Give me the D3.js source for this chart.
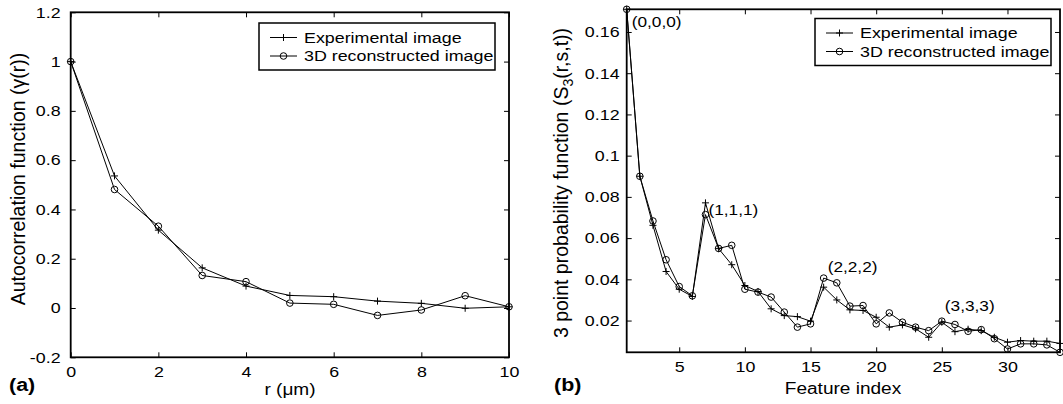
<!DOCTYPE html>
<html>
<head>
<meta charset="utf-8">
<script src="https://cdn.jsdelivr.net/npm/d3@7"></script>
<style>
  body { margin: 0; background: #fff; }
  svg { display: block; }
  text { font-family: "Liberation Sans", Arial, Helvetica, sans-serif; fill: #000; }
</style>
</head>
<body>
<svg width="1063" height="404"></svg>
<script>
"use strict";

// ---- data (a): autocorrelation ----
var rValues = [0, 1, 2, 3, 4, 5, 6, 7, 8, 9, 10];
var expAuto = [1, 0.536, 0.316, 0.163, 0.089, 0.051, 0.046, 0.028, 0.019, -0.001, 0.005];
var recAuto = [1, 0.481, 0.332, 0.132, 0.107, 0.020, 0.015, -0.030, -0.008, 0.050, 0.005];
var aXTicks = [0, 2, 4, 6, 8, 10];
var aYTicks = [-0.2, 0, 0.2, 0.4, 0.6, 0.8, 1, 1.2];

// ---- data (b): 3 point probability function ----
var featureIndex = d3.range(1, 35);
var expS3 = [0.171, 0.090, 0.0662, 0.0438, 0.0352, 0.0317, 0.0771, 0.0549, 0.0471, 0.0370,
             0.0341, 0.0257, 0.0224, 0.0219, 0.0197, 0.0362, 0.0300, 0.0252, 0.0249, 0.0216,
             0.0168, 0.0179, 0.0160, 0.0119, 0.0192, 0.0146, 0.0158, 0.0151, 0.0119, 0.0095,
             0.0103, 0.0100, 0.0100, 0.0089];
var recS3 = [0.171, 0.090, 0.0683, 0.0495, 0.0365, 0.0320, 0.0714, 0.0550, 0.0565, 0.0352,
             0.0338, 0.0314, 0.0241, 0.0168, 0.0184, 0.0406, 0.0383, 0.0270, 0.0273, 0.0184,
             0.0237, 0.0192, 0.0168, 0.0151, 0.0197, 0.0181, 0.0148, 0.0156, 0.0112, 0.0062,
             0.0087, 0.0087, 0.0082, 0.0046];
var bXTicks = [5, 10, 15, 20, 25, 30];
var bYTicks = [0.02, 0.04, 0.06, 0.08, 0.1, 0.12, 0.14, 0.16];
var annotations = [
  {label: "(0,0,0)", i: 1,  v: 0.171,  dx: 5, dy: 18},
  {label: "(1,1,1)", i: 7,  v: 0.0771, dx: 3, dy: 12},
  {label: "(2,2,2)", i: 16, v: 0.0406, dx: 4, dy: -6},
  {label: "(3,3,3)", i: 25, v: 0.0197, dx: 3, dy: -10}
];
var seriesNames = ["Experimental image", "3D reconstructed image"];

var svg = d3.select("svg"),
    SX = 1.19;   // horizontal text stretch seen in the reference

function hText(parent, x, y, str, size) {
  return parent.append("text")
    .attr("transform", "translate(" + x + "," + y + ") scale(" + SX + ",1)")
    .style("font-size", size + "px")
    .text(str);
}

function drawMarker(g, kind, x, y) {
  if (kind === "plus") {
    g.append("path")
      .attr("d", "M" + (x - 3.5) + "," + y + "H" + (x + 3.5) + "M" + x + "," + (y - 3.5) + "V" + (y + 3.5))
      .attr("stroke", "#000").attr("stroke-width", 1).attr("fill", "none");
  } else {
    g.append("circle").attr("cx", x).attr("cy", y).attr("r", 3.3)
      .attr("stroke", "#000").attr("stroke-width", 1).attr("fill", "none");
  }
}

function panel(opt) {
  var x = d3.scaleLinear().domain(opt.xDomain).range([opt.left, opt.right]),
      y = d3.scaleLinear().domain(opt.yDomain).range([opt.bottom, opt.top]);
  var g = svg.append("g");

  var styleAxis = function(a) {
    a.select(".domain").remove();
    a.attr("font-family", null).attr("font-size", null);
    a.selectAll("line").attr("stroke", "#000").attr("stroke-width", 1);
  };

  g.append("g").attr("transform", "translate(0," + opt.bottom + ")")
    .call(d3.axisBottom(x).tickValues(opt.xTicks).tickSizeInner(-5).tickSizeOuter(0)
      .tickPadding(opt.xPad).tickFormat(d => String(d)))
    .call(styleAxis)
    .selectAll("text").attr("transform", "scale(" + SX + ",1)").style("font-size", "15px");
  g.append("g").attr("transform", "translate(0," + opt.top + ")")
    .call(d3.axisTop(x).tickValues(opt.xTicks).tickSizeInner(-5).tickSizeOuter(0).tickFormat(""))
    .call(styleAxis);
  g.append("g").attr("transform", "translate(" + opt.left + ",0)")
    .call(d3.axisLeft(y).tickValues(opt.yTicks).tickSizeInner(-5).tickSizeOuter(0)
      .tickPadding(opt.yPad).tickFormat(d => String(d)))
    .call(styleAxis)
    .selectAll("text").attr("transform", "scale(" + SX + ",1)").style("font-size", "15px");
  g.append("g").attr("transform", "translate(" + opt.right + ",0)")
    .call(d3.axisRight(y).tickValues(opt.yTicks).tickSizeInner(-5).tickSizeOuter(0).tickFormat(""))
    .call(styleAxis);

  g.append("rect")
    .attr("x", opt.left).attr("y", opt.top)
    .attr("width", opt.right - opt.left).attr("height", opt.bottom - opt.top)
    .attr("fill", "none").attr("stroke", "#000").attr("stroke-width", 1.8);

  var line = d3.line().x(d => x(d[0])).y(d => y(d[1]));
  opt.series.forEach(function(s) {
    var pts = opt.xs.map((v, k) => [v, s.values[k]]);
    g.append("path").datum(pts).attr("d", line)
      .attr("fill", "none").attr("stroke", "#000").attr("stroke-width", 1);
    pts.forEach(p => drawMarker(g, s.marker, x(p[0]), y(p[1])));
  });

  // legend
  var lg = g.append("g");
  lg.append("rect").attr("x", opt.legend.x).attr("y", opt.legend.y)
    .attr("width", 236).attr("height", 47)
    .attr("fill", "#fff").attr("stroke", "#000").attr("stroke-width", 1.5);
  opt.series.forEach(function(s, k) {
    var ly = opt.legend.y + 14.5 + k * 18.5,
        lx = opt.legend.x + 11;
    lg.append("line").attr("x1", lx).attr("x2", lx + 27).attr("y1", ly).attr("y2", ly)
      .attr("stroke", "#000").attr("stroke-width", 1);
    drawMarker(lg, s.marker, lx + 13.5, ly);
    hText(lg, lx + 34, ly + 5.4, s.name, 15);
  });

  return {g: g, x: x, y: y};
}

// ---- panel (a) ----
var pa = panel({
  left: 70.7, right: 509, top: 12.3, bottom: 357.3,
  xDomain: [0, 10], yDomain: [-0.2, 1.2],
  xTicks: aXTicks, yTicks: aYTicks, xPad: 9, yPad: 8.5,
  xs: rValues,
  series: [
    {name: seriesNames[0], values: expAuto, marker: "plus"},
    {name: seriesNames[1], values: recAuto, marker: "circle"}
  ],
  legend: {x: 259, y: 23}
});
hText(pa.g, 290, 395, "r (\u03bcm)", 16).attr("text-anchor", "middle");
pa.g.append("text")
  .attr("transform", "translate(25,179) rotate(-90)")
  .attr("text-anchor", "middle").style("font-size", "19.5px")
  .text("Autocorrelation function (\u03b3(r))");
hText(pa.g, 9, 391, "(a)", 18).style("font-weight", "bold");

// ---- panel (b) ----
var allS3 = expS3.concat(recS3);
var pb = panel({
  left: 626.7, right: 1060, top: 9.3, bottom: 352.3,
  xDomain: d3.extent(featureIndex), yDomain: d3.extent(allS3),
  xTicks: bXTicks, yTicks: bYTicks, xPad: 9, yPad: 6,
  xs: featureIndex,
  series: [
    {name: seriesNames[0], values: expS3, marker: "plus"},
    {name: seriesNames[1], values: recS3, marker: "circle"}
  ],
  legend: {x: 815, y: 18.5}
});
annotations.forEach(function(a) {
  hText(pb.g, pb.x(a.i) + a.dx, pb.y(a.v) + a.dy, a.label, 14.5);
});
hText(pb.g, 843, 394, "Feature index", 16).attr("text-anchor", "middle");
var yl = pb.g.append("text")
  .attr("transform", "translate(568,183) rotate(-90)")
  .attr("text-anchor", "middle").style("font-size", "19.5px");
yl.append("tspan").text("3 point probability function (S");
yl.append("tspan").attr("dy", 5).style("font-size", "14px").text("3");
yl.append("tspan").attr("dy", -5).text("(r,s,t))");
hText(pb.g, 554, 391, "(b)", 18).style("font-weight", "bold");
</script>
</body>
</html>
